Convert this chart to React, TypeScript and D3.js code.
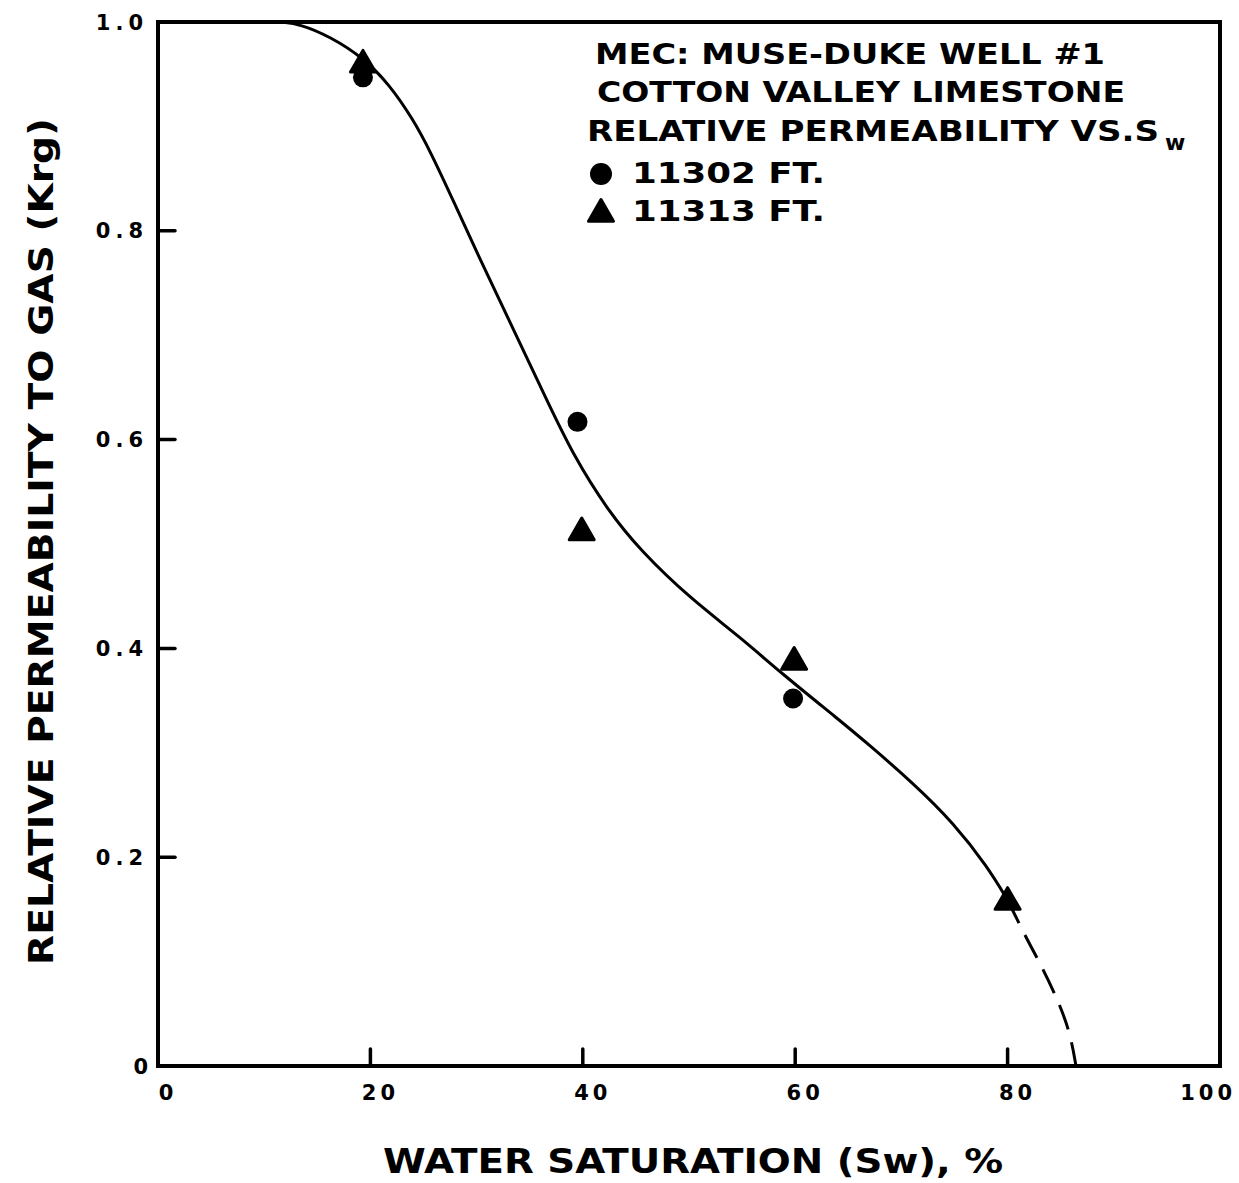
import React from "react";
import * as d3 from "d3";

// Axis ticks
const xTicks = [0, 20, 40, 60, 80, 100];
const yTicks = [0, 0.2, 0.4, 0.6, 0.8, 1.0];
const yTickLabels = ["0", "0.2", "0.4", "0.6", "0.8", "1.0"];

// Measured points, 11302 ft (circles)
const sw11302 = [19.3, 39.5, 59.8];
const krg11302 = [0.947, 0.617, 0.352];

// Measured points, 11313 ft (triangles)
const sw11313 = [19.3, 39.9, 59.9, 80.0];
const krg11313 = [0.959, 0.511, 0.387, 0.157];

// Hand-fitted curve (solid part)
const curveSw = [11.5, 13.4, 16.2, 19.3, 21.8, 24.0, 25.6, 27.8, 30.3, 33.4, 36.6, 39.1, 42.3, 45.4, 50.1, 54.8, 58.6, 64.2, 66.8, 71.1, 74.9, 78.1, 80.0];
const curveKrg = [1.0, 0.998, 0.986, 0.966, 0.940, 0.907, 0.877, 0.829, 0.773, 0.707, 0.638, 0.585, 0.533, 0.494, 0.448, 0.411, 0.377, 0.331, 0.309, 0.271, 0.233, 0.191, 0.159];

// Extrapolated tail (dashed)
const tailSw = [80.0, 81.6, 83.05, 84.75, 85.9, 86.44];
const tailKrg = [0.159, 0.1255, 0.0987, 0.063, 0.0316, 0.0];

const titleLines = ["MEC: MUSE-DUKE WELL #1", "COTTON VALLEY LIMESTONE", "RELATIVE PERMEABILITY VS.S"];
const seriesLabels = ["11302 FT.", "11313 FT."];

const W = 1239;
const H = 1183;
const FONT = "'DejaVu Sans', 'Liberation Sans', Arial, sans-serif";

export default function App() {
  const x = d3.scaleLinear().domain([0, 100]).range([158, 1220]);
  const y = d3.scaleLinear().domain([0, 1]).range([1066, 22]);

  const line = d3
    .line<[number, number]>()
    .x((d) => x(d[0]))
    .y((d) => y(d[1]))
    .curve(d3.curveBasis);

  const solid = curveSw.map((s, i) => [s, curveKrg[i]] as [number, number]);
  const tail = tailSw.map((s, i) => [s, tailKrg[i]] as [number, number]);

  const tri = d3.symbol(d3.symbolTriangle, 270)();

  return (
    <svg
      width={W}
      height={H}
      viewBox={`0 0 ${W} ${H}`}
      style={{ position: "absolute", left: 0, top: 0, background: "#fff" }}
      fontFamily={FONT}
      fontWeight="bold"
    >
      <rect x={0} y={0} width={W} height={H} fill="#fff" />

      {/* plot frame */}
      <rect
        x={x(0)}
        y={y(1)}
        width={x(100) - x(0)}
        height={y(0) - y(1)}
        fill="none"
        stroke="#000"
        strokeWidth={4}
      />

      {/* y ticks (inward) */}
      {yTicks.slice(1, -1).map((t) => (
        <line key={"yt" + t} x1={x(0)} x2={x(0) + 17} y1={y(t)} y2={y(t)} stroke="#000" strokeWidth={3.5} strokeLinecap="round" />
      ))}
      {/* x ticks (inward) */}
      {xTicks.slice(1, -1).map((t) => (
        <line key={"xt" + t} x1={x(t)} x2={x(t)} y1={y(0)} y2={y(0) - 17} stroke="#000" strokeWidth={3.5} strokeLinecap="round" />
      ))}

      {/* y tick labels */}
      {yTicks.map((t, i) => (
        <text
          key={"yl" + t}
          x={148}
          y={y(t)}
          dy="0.36em"
          textAnchor="end"
          fontSize={21}
          fontWeight={900}
          letterSpacing={yTickLabels[i].length > 1 ? 5 : 0}
        >
          {yTickLabels[i]}
        </text>
      ))}

      {/* x tick labels */}
      {xTicks.map((t, i) => (
        <text
          key={"xl" + t}
          x={i === xTicks.length - 1 ? x(t) + 16 : x(t) + 10}
          y={1092}
          dy="0.36em"
          textAnchor={i === xTicks.length - 1 ? "end" : "middle"}
          fontSize={21}
          fontWeight={900}
          letterSpacing={4}
        >
          {String(t)}
        </text>
      ))}

      {/* axis titles */}
      <text x={383} y={1173} fontSize={34} textLength={620} lengthAdjust="spacingAndGlyphs">
        WATER SATURATION (Sw), %
      </text>
      <text
        transform="translate(53,965) rotate(-90)"
        fontSize={33}
        textLength={847}
        lengthAdjust="spacingAndGlyphs"
      >
        RELATIVE PERMEABILITY TO GAS (Krg)
      </text>

      {/* curve */}
      <path d={line(solid) || ""} fill="none" stroke="#000" strokeWidth={3} />
      <path d={line(tail) || ""} fill="none" stroke="#000" strokeWidth={3} strokeDasharray="26 13" />

      {/* points */}
      {sw11302.map((s, i) => (
        <circle key={"c" + i} cx={x(s)} cy={y(krg11302[i])} r={10} fill="#000" />
      ))}
      {sw11313.map((s, i) => (
        <path
          key={"t" + i}
          d={tri || ""}
          transform={`translate(${x(s)},${y(krg11313[i])})`}
          fill="#000"
          stroke="#000"
          strokeWidth={3}
          strokeLinejoin="round"
        />
      ))}

      {/* legend block */}
      <text x={595} y={64} fontSize={28} textLength={510} lengthAdjust="spacingAndGlyphs">
        {titleLines[0]}
      </text>
      <text x={597} y={102} fontSize={28} textLength={528} lengthAdjust="spacingAndGlyphs">
        {titleLines[1]}
      </text>
      <text x={587} y={141} fontSize={28} textLength={572} lengthAdjust="spacingAndGlyphs">
        {titleLines[2]}
      </text>
      <text x={1165} y={150} fontSize={22}>
        w
      </text>
      <circle cx={601} cy={174} r={11} fill="#000" />
      <text x={632} y={183} fontSize={28} textLength={193} lengthAdjust="spacingAndGlyphs">
        {seriesLabels[0]}
      </text>
      <path
        d={tri || ""}
        transform="translate(601,214)"
        fill="#000"
        stroke="#000"
        strokeWidth={3}
        strokeLinejoin="round"
      />
      <text x={632} y={221} fontSize={28} textLength={193} lengthAdjust="spacingAndGlyphs">
        {seriesLabels[1]}
      </text>
    </svg>
  );
}
